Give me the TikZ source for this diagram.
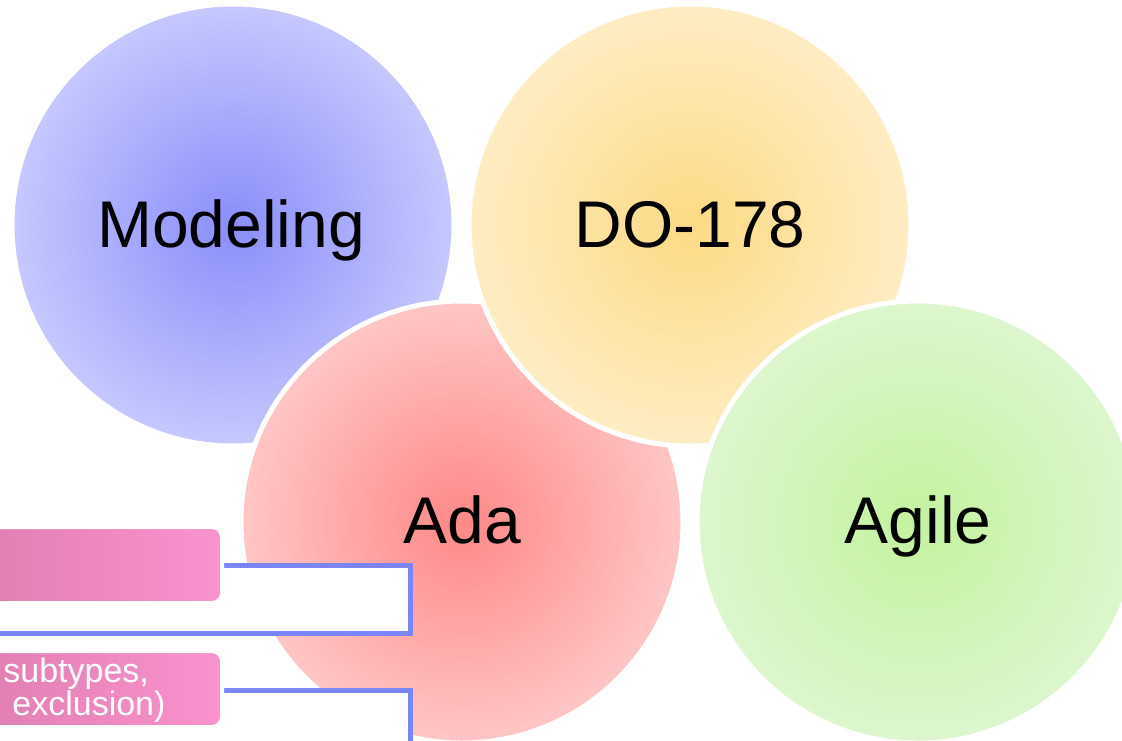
\documentclass[tikz,border=0pt]{standalone}
\usepackage{fontspec}
\setmainfont{Liberation Sans}
\definecolor{modelIn}{HTML}{8A8EF9}
\definecolor{modelOut}{HTML}{C6C8FE}
\definecolor{docIn}{HTML}{FDDB84}
\definecolor{docOut}{HTML}{FEECC4}
\definecolor{adaIn}{HTML}{FF8888}
\definecolor{adaOut}{HTML}{FFC6C6}
\definecolor{agileIn}{HTML}{C4F29F}
\definecolor{agileOut}{HTML}{DDF6CE}
\definecolor{pinkL}{HTML}{DE7DAF}
\definecolor{pinkR}{HTML}{FA92CE}
\definecolor{frameBlue}{HTML}{7A85F9}
\begin{document}
\begin{tikzpicture}[x=0.5pt, y=-0.5pt,
  bubble/.style={circle, draw=white, line width=2.5pt, minimum size=221pt, inner sep=0pt},
  bubbletext/.style={anchor=base, font=\fontsize{33pt}{36pt}\selectfont, text=black, inner sep=0pt},
  pinkbox/.style={rectangle, rounded corners=5pt, draw=white, line width=2pt,
    left color=pinkL, right color=pinkR, minimum width=131pt, minimum height=38pt, inner sep=0pt},
  framebox/.style={rectangle, draw=frameBlue, line width=2.5pt, fill=white, inner sep=0pt},
  boxtext/.style={anchor=base west, font=\fontsize{17pt}{20pt}\selectfont, text=white, inner sep=0pt}]
  \useasboundingbox (0,0) rectangle (1122,740);
  \clip (0,0) rectangle (1122,740);
  \fill[white] (0,0) rectangle (1122,740);

  % topic bubbles, back to front
  \node[bubble, inner color=modelIn, outer color=modelOut] (modeling) at (233,225) {};
  \node[bubbletext] (modelingtext) at (231,247) {Modeling};

  \node[bubble, inner color=adaIn, outer color=adaOut] (ada) at (462,522) {};
  \node[bubbletext] (adatext) at (462,543) {Ada};

  \node[bubble, inner color=docIn, outer color=docOut] (do178) at (690,225) {};
  \node[bubbletext] (do178text) at (690,247) {DO-178};

  \node[bubble, inner color=agileIn, outer color=agileOut] (agile) at (918,522) {};
  \node[bubbletext] (agiletext) at (918,543) {Agile};

  % outlined frames behind the tabs
  \node[framebox, minimum width=225pt, minimum height=34pt] (frameA) at (185,599) {};
  \node[framebox, minimum width=225pt, minimum height=55pt] (frameB) at (185,745) {};

  % pink tabs
  \node[pinkbox] (tabA) at (91,565) {};
  \node[pinkbox] (tabB) at (91,689) {};
  \node[boxtext] (tabBline1) at (3,682) {subtypes,};
  \node[boxtext] (tabBline2) at (12,715) {exclusion)};
\end{tikzpicture}
\end{document}
